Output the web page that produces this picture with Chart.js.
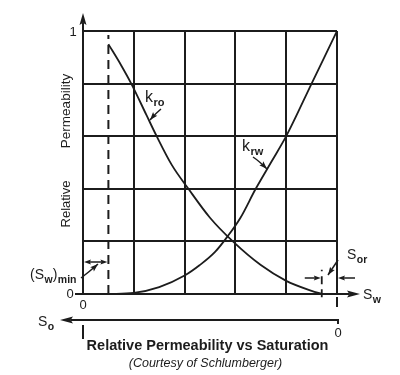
<!DOCTYPE html>
<html>
<head>
<meta charset="utf-8">
<title>Relative Permeability vs Saturation</title>
<script src="https://cdn.jsdelivr.net/npm/chart.js@4.4.1/dist/chart.umd.min.js"></script>
<style>
  html, body { margin: 0; padding: 0; background: #fff; }
  #wrap { width: 400px; height: 375px; }
</style>
</head>
<body>
<div id="wrap"><canvas id="chart"></canvas></div>
<script>
// values (Sw as fraction, kr as fraction)
const swOil = [0.10, 0.15, 0.19, 0.25, 0.29, 0.35, 0.415, 0.50, 0.59, 0.70, 0.80, 0.90, 0.94];
const kro = [0.95, 0.87, 0.80, 0.68, 0.60, 0.49, 0.40, 0.29, 0.20, 0.11, 0.05, 0.012, 0];

const swWater = [0.10, 0.20, 0.30, 0.40, 0.46, 0.52, 0.57, 0.62, 0.68, 0.74, 0.80, 0.90, 1.00];
const krw = [0, 0.004, 0.026, 0.07, 0.11, 0.16, 0.22, 0.29, 0.40, 0.50, 0.60, 0.80, 1.00];

const swMin = 0.10;      // (Sw)min
const swOilEnd = 0.94;   // 1 - Sor
const gridStep = 0.2;

const ink = '#1c1c1c';
const font = '"Liberation Sans", Arial, Helvetica, sans-serif';

const toPoints = (xs, ys) => xs.map((x, i) => ({ x: x, y: ys[i] }));

function line(ctx, x1, y1, x2, y2) {
    ctx.beginPath();
    ctx.moveTo(x1, y1);
    ctx.lineTo(x2, y2);
    ctx.stroke();
}

function arrow(ctx, tx, ty, ang, len = 11, half = 3.5) {
    const bx = tx - len * Math.cos(ang), by = ty - len * Math.sin(ang);
    const nx = -Math.sin(ang) * half, ny = Math.cos(ang) * half;
    ctx.beginPath();
    ctx.moveTo(tx, ty);
    ctx.lineTo(bx + nx, by + ny);
    ctx.lineTo(bx + 0.6 * len * Math.cos(ang) * 0.3, by + 0.6 * len * Math.sin(ang) * 0.3);
    ctx.lineTo(bx - nx, by - ny);
    ctx.closePath();
    ctx.fill();
}

// leader line (slightly bent) ending in an arrow
function leader(ctx, x1, y1, cx, cy, x2, y2) {
    ctx.beginPath();
    ctx.moveTo(x1, y1);
    ctx.quadraticCurveTo(cx, cy, x2, y2);
    ctx.stroke();
    arrow(ctx, x2, y2, Math.atan2(y2 - cy, x2 - cx), 8, 2.8);
}

// text with subscript parts: [[text, isSub], ...]
function richText(ctx, parts, x, y, big, small) {
    let cx = x;
    parts.forEach(([t, sub]) => {
        ctx.font = sub ? small : big;
        ctx.fillText(t, cx, sub ? y + 4 : y);
        cx += ctx.measureText(t).width + (sub ? 0 : 0.5);
    });
}

const figureNotes = {
    id: 'figureNotes',
    afterDraw(chart) {
        const { ctx, scales } = chart;
        const px = v => scales.x.getPixelForValue(v);
        const py = v => scales.y.getPixelForValue(v);
        const left = px(0), right = px(1), top = py(1), bottom = py(0);
        const soY = bottom + 26;

        ctx.save();
        ctx.strokeStyle = ink;
        ctx.fillStyle = ink;
        ctx.lineWidth = 2;
        ctx.lineCap = 'butt';

        // axis arrows
        line(ctx, left, top, left, top - 8);
        arrow(ctx, left, top - 18, -Math.PI / 2, 12, 3.5);
        line(ctx, right, bottom, right + 12, bottom);
        arrow(ctx, right + 23, bottom, 0, 13, 3.5);
        line(ctx, right, bottom + 3, right, bottom + 13);

        // So axis (reversed)
        line(ctx, left - 12, soY, right + 1, soY);
        line(ctx, right + 1, soY - 1, right + 1, soY + 4);
        arrow(ctx, left - 23, soY, Math.PI, 13, 3.5);
        line(ctx, left, soY + 5, left, soY + 19);

        // tick labels
        ctx.font = '13px ' + font;
        ctx.textBaseline = 'middle';
        ctx.textAlign = 'center';
        ctx.fillText('1', left - 10, top + 1);
        ctx.fillText('0', left - 13, bottom);
        line(ctx, left - 8, bottom, left, bottom);
        ctx.fillText('0', left, bottom + 11);
        ctx.fillText('0', right + 1, soY + 13);

        // axis names
        ctx.textAlign = 'left';
        ctx.textBaseline = 'alphabetic';
        const big = '14px ' + font, small = 'bold 10.5px ' + font;
        richText(ctx, [['S', false], ['w', true]], right + 26, bottom + 5, big, small);
        richText(ctx, [['S', false], ['o', true]], left - 45, soY + 6, big, small);

        // (Sw)min marker
        richText(ctx, [['(S', false], ['w', true], [')', false], ['min', true]], left - 53, bottom - 15, big, small);
        ctx.lineWidth = 1.5;
        const dimY = bottom - 32;
        line(ctx, left + 6, dimY, px(swMin) - 6, dimY);
        arrow(ctx, left + 1, dimY, Math.PI, 7, 2.6);
        arrow(ctx, px(swMin) - 1, dimY, 0, 7, 2.6);
        leader(ctx, left - 2, bottom - 16, left + 6, bottom - 22, left + 15, bottom - 30);

        // Sor marker
        richText(ctx, [['S', false], ['or', true]], right + 10, bottom - 35, big, small);
        const sorY = bottom - 16;
        line(ctx, px(swOilEnd) - 17, sorY, px(swOilEnd) - 6, sorY);
        arrow(ctx, px(swOilEnd) - 1, sorY, 0, 7, 2.6);
        line(ctx, right + 18, sorY, right + 6, sorY);
        arrow(ctx, right + 1, sorY, Math.PI, 7, 2.6);
        leader(ctx, right + 1, bottom - 34, right - 3, bottom - 28, right - 9, bottom - 19);

        // curve labels
        richText(ctx, [['k', false], ['ro', true]], 145, 102, '16px ' + font, 'bold 11px ' + font);
        leader(ctx, 161, 109, 156, 113, 150, 120);
        richText(ctx, [['k', false], ['rw', true]], 242, 151, '16px ' + font, 'bold 11px ' + font);
        leader(ctx, 253, 157, 259, 161, 267, 169);

        // y axis title, split as in the figure
        ctx.textAlign = 'center';
        ctx.textBaseline = 'middle';
        ctx.font = '13.5px ' + font;
        ctx.save();
        ctx.translate(left - 17, 111);
        ctx.rotate(-Math.PI / 2);
        ctx.fillText('Permeability', 0, 0);
        ctx.restore();
        ctx.save();
        ctx.translate(left - 17, 204);
        ctx.rotate(-Math.PI / 2);
        ctx.font = '13px ' + font;
        ctx.fillText('Relative', 0, 0);
        ctx.restore();

        // caption
        ctx.font = 'bold 14.5px ' + font;
        ctx.fillText('Relative Permeability vs Saturation', 207.5, 346);
        ctx.font = 'italic 12.5px ' + font;
        ctx.fillText('(Courtesy of Schlumberger)', 205.5, 364);

        ctx.restore();
    }
};

new Chart(document.getElementById('chart'), {
    type: 'scatter',
    data: {
        datasets: [
            {
                label: 'kro',
                data: toPoints(swOil, kro),
                showLine: true,
                borderColor: ink,
                borderWidth: 1.8,
                pointRadius: 0,
                cubicInterpolationMode: 'monotone'
            },
            {
                label: 'krw',
                data: toPoints(swWater, krw),
                showLine: true,
                borderColor: ink,
                borderWidth: 1.8,
                pointRadius: 0,
                cubicInterpolationMode: 'monotone'
            },
            {
                label: '(Sw)min',
                data: [{ x: swMin, y: 0 }, { x: swMin, y: 0.985 }],
                showLine: true,
                borderColor: ink,
                borderWidth: 2,
                borderDash: [9, 6],
                pointRadius: 0
            },
            {
                label: 'Sor',
                data: [{ x: swOilEnd, y: -0.012 }, { x: swOilEnd, y: 0.092 }],
                showLine: true,
                borderColor: ink,
                borderWidth: 1.8,
                borderDash: [8, 5],
                pointRadius: 0,
                clip: false
            }
        ]
    },
    options: {
        responsive: true,
        maintainAspectRatio: false,
        animation: false,
        events: [],
        layout: { padding: { left: 83, top: 31, right: 63, bottom: 81 } },
        plugins: {
            legend: { display: false },
            tooltip: { enabled: false }
        },
        scales: {
            x: {
                type: 'linear',
                min: 0,
                max: 1,
                ticks: { display: false, stepSize: gridStep },
                grid: { color: ink, lineWidth: 2, drawTicks: false },
                border: { color: ink, width: 2 }
            },
            y: {
                type: 'linear',
                min: 0,
                max: 1,
                ticks: { display: false, stepSize: gridStep },
                grid: { color: ink, lineWidth: 2, drawTicks: false },
                border: { color: ink, width: 2 }
            }
        }
    },
    plugins: [figureNotes]
});
</script>
</body>
</html>
